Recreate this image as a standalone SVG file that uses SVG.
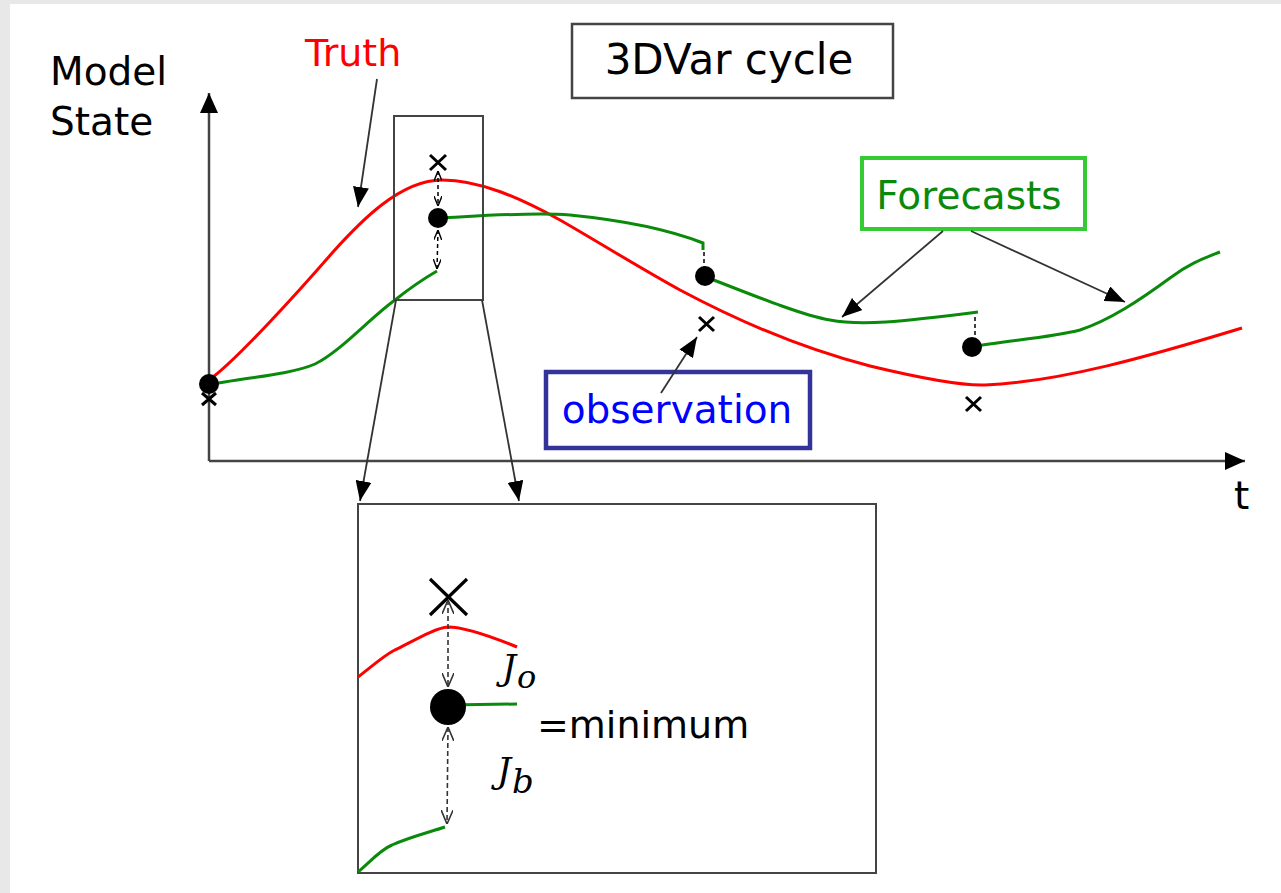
<svg xmlns="http://www.w3.org/2000/svg" width="1281" height="893" viewBox="0 0 1281 893">
  <style>
    .txt { font-family: "DejaVu Sans", "Liberation Sans", sans-serif; }
    .math { font-family: "DejaVu Serif", "Liberation Serif", serif; font-style: italic; fill: #000; }
    .axis { stroke: #444; stroke-width: 2.5; fill: none; }
    .ann { stroke: #333; stroke-width: 1.8; fill: none; }
    .frame { stroke: #444; stroke-width: 2; fill: none; }
    .truth { stroke: #ff0000; stroke-width: 3; fill: none; }
    .fc { stroke: #0a8a0a; stroke-width: 3; fill: none; }
    .cross { stroke: #000; stroke-width: 3; fill: none; }
    .dash { stroke: #333; stroke-width: 1.6; fill: none; stroke-dasharray: 5 3; }
    .dashs { stroke: #000; stroke-width: 1.5; fill: none; stroke-dasharray: 4 3; }
  </style>
  <defs>
    <marker id="tri" viewBox="0 0 20 18" refX="20" refY="9" markerWidth="20" markerHeight="18" markerUnits="userSpaceOnUse" orient="auto">
      <path d="M0,0 L20,9 L0,18 Z" fill="#000"/>
    </marker>
    <marker id="triS" viewBox="0 0 20 16" refX="20" refY="8" markerWidth="20" markerHeight="16" markerUnits="userSpaceOnUse" orient="auto">
      <path d="M0,0 L20,8 L0,16 Z" fill="#000"/>
    </marker>
    <marker id="vs" viewBox="0 0 10 8" refX="10" refY="4" markerWidth="10" markerHeight="8" markerUnits="userSpaceOnUse" orient="auto-start-reverse">
      <path d="M0,0 L10,4 L0,8" fill="none" stroke="#000" stroke-width="1.4"/>
    </marker>
    <marker id="vb" viewBox="0 0 14 12" refX="14" refY="6" markerWidth="14" markerHeight="12" markerUnits="userSpaceOnUse" orient="auto-start-reverse">
      <path d="M0,0 L14,6 L0,12" fill="none" stroke="#333" stroke-width="1.6"/>
    </marker>
  </defs>

  <rect x="0" y="0" width="1281" height="893" fill="#e8e8e8"/>
  <rect x="10" y="4" width="1271" height="889" fill="#ffffff"/>

  <g id="labels" class="txt">
    <text x="50" y="85" font-size="39" fill="#000">Model</text>
    <text x="50" y="135" font-size="39" fill="#000">State</text>
    <text x="305" y="66" font-size="38" fill="#ff0000">Truth</text>
    <text x="1234" y="509" font-size="39" fill="#000">t</text>
  </g>

  <g id="title">
    <rect x="572" y="24" width="321" height="74" fill="#fff" stroke="#444" stroke-width="2.5"/>
    <text x="729" y="74" class="txt" font-size="42" text-anchor="middle" fill="#000">3DVar cycle</text>
  </g>

  <g id="forecasts">
    <rect x="862" y="158" width="223" height="71" fill="#fff" stroke="#33cc33" stroke-width="4"/>
    <text x="969" y="209" class="txt" font-size="39" text-anchor="middle" fill="#0a8a0a">Forecasts</text>
  </g>

  <g id="observation">
    <rect x="546" y="372" width="264" height="76" fill="#fff" stroke="#333399" stroke-width="4.5"/>
    <text x="677" y="423" class="txt" font-size="39" text-anchor="middle" fill="#0000ff">observation</text>
  </g>

  <g id="axes">
    <line x1="209" y1="461" x2="209" y2="93" class="axis" marker-end="url(#tri)"/>
    <line x1="209" y1="461" x2="1245" y2="461" class="axis" marker-end="url(#tri)"/>
  </g>

  <g id="curves">
    <path class="truth" d="M209,380 C235,362 300,290 333,252 C360,222 400,180 442,180 C480,180 520,198 560,220 C600,243 640,268 680,290 C740,322 800,348 870,366 C920,378 960,386 985,385 C1060,382 1150,356 1242,328"/>
    <path class="fc" d="M209,385 C240,378 290,375 315,364 C340,352 370,318 395,300 C410,288 425,278 437,271"/>
    <path class="fc" d="M438,218 C480,216 530,212 570,215 C620,220 670,230 703,243 L703,250"/>
    <path class="fc" d="M706,277 C740,290 800,315 830,320 C860,326 900,322 978,312"/>
    <path class="fc" d="M972,347 C1000,341 1050,338 1080,330 C1110,320 1140,300 1170,278 C1190,263 1205,258 1220,252"/>
    <line x1="704" y1="252" x2="704" y2="268" class="dashs"/>
    <line x1="975" y1="317" x2="975" y2="338" class="dashs"/>
  </g>

  <g id="points">
    <circle cx="209" cy="384" r="10" fill="#000"/>
    <circle cx="438" cy="218" r="10" fill="#000"/>
    <circle cx="705" cy="276" r="10" fill="#000"/>
    <circle cx="972" cy="347" r="10" fill="#000"/>
    <path class="cross" d="M202,393 L216,405 M216,393 L202,405"/>
    <path class="cross" d="M430,155 L446,170 M446,155 L430,170"/>
    <path class="cross" d="M699,317 L714,331 M714,317 L699,331"/>
    <path class="cross" d="M966,397 L981,411 M981,397 L966,411"/>
  </g>

  <g id="zoom-window">
    <rect x="394" y="116" width="89" height="184" class="frame"/>
    <line x1="438" y1="171" x2="438" y2="206" class="dashs" marker-start="url(#vs)" marker-end="url(#vs)"/>
    <line x1="438" y1="230" x2="437" y2="269" class="dashs" marker-start="url(#vs)" marker-end="url(#vs)"/>
  </g>

  <g id="connectors">
    <line x1="377" y1="79" x2="358" y2="207" class="ann" marker-end="url(#triS)"/>
    <line x1="943" y1="231" x2="842" y2="317" class="ann" marker-end="url(#triS)"/>
    <line x1="971" y1="231" x2="1125" y2="302" class="ann" marker-end="url(#triS)"/>
    <line x1="661" y1="393" x2="697" y2="337" class="ann" marker-end="url(#triS)"/>
    <line x1="396" y1="300" x2="360" y2="501" class="ann" marker-end="url(#triS)"/>
    <line x1="482" y1="300" x2="519" y2="501" class="ann" marker-end="url(#triS)"/>
  </g>

  <g id="detail">
    <rect x="358" y="504" width="518" height="369" class="frame"/>
    <path class="truth" d="M358,677 C370,668 382,657 393,651 C415,640 435,628 448,627 C462,627 490,636 517,647"/>
    <path class="fc" d="M358,872 C370,862 380,850 392,845 C410,837 430,832 445,827"/>
    <line x1="448" y1="705" x2="517" y2="704" class="fc"/>
    <circle cx="448" cy="707" r="18" fill="#000"/>
    <path d="M430,579 L467,615 M467,579 L430,615" stroke="#000" stroke-width="3.2" fill="none"/>
    <line x1="448" y1="600" x2="448" y2="687" class="dash" marker-start="url(#vb)" marker-end="url(#vb)"/>
    <line x1="448" y1="727" x2="447" y2="824" class="dash" marker-start="url(#vb)" marker-end="url(#vb)"/>
    <text x="502" y="680" class="math" font-size="35">J<tspan font-size="32" dx="1" dy="8">o</tspan></text>
    <text x="497" y="783" class="math" font-size="35">J<tspan font-size="34" dx="1" dy="10">b</tspan></text>
    <text x="537" y="738" class="txt" font-size="38" fill="#000">=minimum</text>
  </g>
</svg>
